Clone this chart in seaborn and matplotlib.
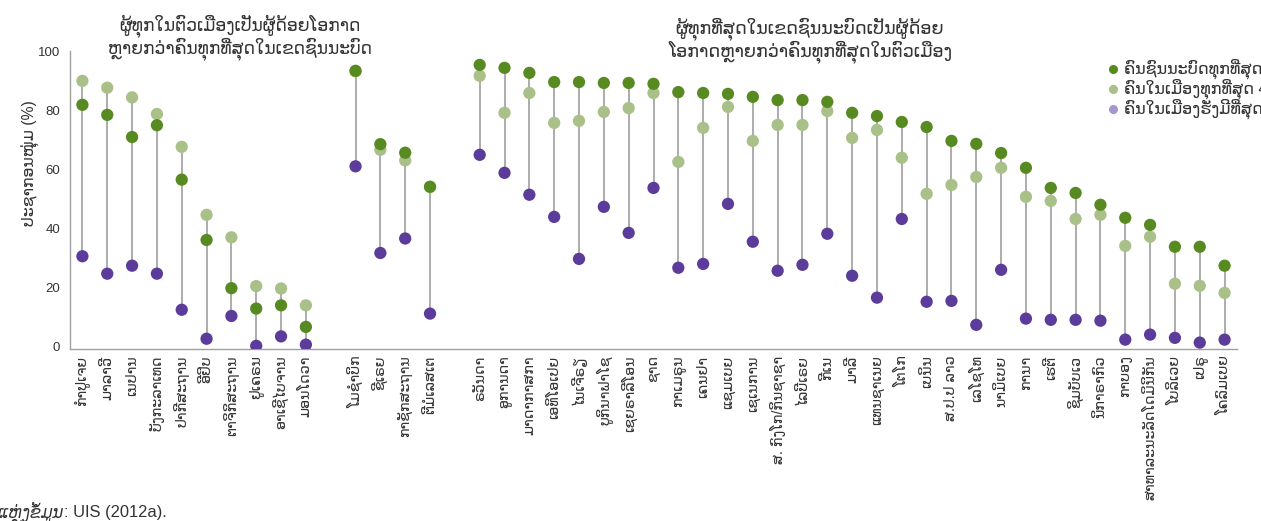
import numpy as np
import pandas as pd
import matplotlib
matplotlib.use("Agg")
import matplotlib.pyplot as plt
import seaborn as sns
from matplotlib.lines import Line2D

# Country labels, by group (gaps between groups are empty slots on the axis)
group1 = ["ກຳປູເຈຍ", "ມາລາວີ", "ເນປານ", "ບັງກະລາເທດ", "ປາກີສະຖານ",
          "ອີຢິບ", "ຕາຈິກິສະຖານ", "ຢູເຄຣນ", "ອາເຊີໄບຈານ", "ມອນໂດວາ"]
group2 = ["ໂມຊຳບິກ", "ຊີເຣຍ", "ກາຊັກສະຖານ", "ຕີມໍເລສເຕ"]
group3 = ["ຣວັນດາ", "ອູການດາ", "ມາດາກາສກາ", "ເອທິໂອເປຍ", "ໄນເຈີຣຽ",
          "ບູກິນາຟາໂຊ", "ເຊຍຣາລີໂອນ", "ຊາດ", "ກາເມຣູນ", "ເຄນຢາ",
          "ແຊມເບຍ", "ເຊເນການ", "ສ. ກົງໂກ/ກິນຊາຊາ", "ໄລບີເຣຍ", "ກີເນ",
          "ມາລີ", "ແທນຊາເນຍ", "ໂຕໂກ", "ເບນິນ", "ສ.ປ.ປ ລາວ",
          "ເລໂຊໂທ", "ນາມິເບຍ", "ການາ", "ເຮຕີ", "ຊິມບັບເວ",
          "ນິກາຣາກົວ", "ກາບອງ", "ສາທາລະນະລັດໂດມິນິກັນ", "ໂບລິເວຍ", "ເປຣູ",
          "ໂຄລົມເບຍ"]

# Values (%) per group: rural poorest, urban poorest, urban richest
rural_poor1 = [81.8, 78.4, 70.9, 74.9, 56.5, 36.1, 19.8, 12.9, 14.0, 6.7]
urban_poor1 = [89.9, 87.6, 84.3, 78.7, 67.6, 44.6, 37.0, 20.5, 19.7, 14.0]
urban_rich1 = [30.6, 24.7, 27.4, 24.7, 12.5, 2.7, 10.4, 0.3, 3.5, 0.7]

rural_poor2 = [93.3, 68.5, 65.6, 54.1]
urban_poor2 = [93.1, 66.6, 63.0, 54.0]
urban_rich2 = [61.0, 31.7, 36.6, 11.2]

rural_poor3 = [95.3, 94.3, 92.6, 89.5, 89.5, 89.2, 89.2, 88.9, 86.1, 85.8,
               85.5, 84.5, 83.4, 83.4, 82.8, 79.1, 78.0, 76.0, 74.3, 69.6,
               68.6, 65.5, 60.5, 53.7, 52.0, 48.0, 43.6, 41.2, 33.8, 33.8,
               27.4]
urban_poor3 = [91.6, 79.1, 85.8, 75.7, 76.4, 79.4, 80.7, 85.8, 62.5, 74.0,
               81.1, 69.6, 75.0, 75.0, 79.7, 70.6, 73.3, 63.9, 51.7, 54.7,
               57.4, 60.5, 50.7, 49.3, 43.2, 44.6, 34.1, 37.2, 21.3, 20.6,
               18.2]
urban_rich3 = [64.9, 58.8, 51.4, 43.9, 29.7, 47.3, 38.5, 53.7, 26.7, 28.0,
               48.3, 35.5, 25.7, 27.7, 38.2, 24.0, 16.6, 43.2, 15.2, 15.5,
               7.4, 26.0, 9.5, 9.1, 9.1, 8.8, 2.4, 4.1, 3.0, 1.4,
               2.4]

title1 = "ຜູ້ທຸກໃນຕົວເມືອງເປັນຜູ້ດ້ອຍໂອກາດ\nຫຼາຍກວ່າຄົນທຸກທີ່ສຸດໃນເຂດຊົນນະບົດ"
title2 = "ຜູ້ທຸກທີ່ສຸດໃນເຂດຊົນນະບົດເປັນຜູ້ດ້ອຍ\nໂອກາດຫຼາຍກວ່າຄົນທຸກທີ່ສຸດໃນຕົວເມືອງ"
legend_labels = ["ຄົນຊົນນະບົດທຸກທີ່ສຸດ 40%", "ຄົນໃນເມືອງທຸກທີ່ສຸດ 40%", "ຄົນໃນເມືອງຮັ່ງມີທີ່ສຸດ 20%"]
ylabel = "ປະຊາກອນໜຸ່ມ (%)"

# build one long table with slot positions (one empty slot between groups)
countries = group1 + [""] + group2 + [""] + group3
rural = rural_poor1 + [np.nan] + rural_poor2 + [np.nan] + rural_poor3
upoor = urban_poor1 + [np.nan] + urban_poor2 + [np.nan] + urban_poor3
urich = urban_rich1 + [np.nan] + urban_rich2 + [np.nan] + urban_rich3
pos = np.arange(len(countries))

wide = pd.DataFrame({"pos": pos, "country": countries,
                     "rural_poor": rural, "urban_poor": upoor, "urban_rich": urich})
long = wide.melt(id_vars=["pos", "country"], var_name="series", value_name="value").dropna()

c_dark = "#578a21"
c_light = "#a9c088"
c_purple = "#5b3c9a"
c_purple_leg = "#a596cc"
c_text = "#333333"

sns.set_style("white")
plt.rcParams["font.family"] = ["Liberation Sans", "DejaVu Sans"]

fig = plt.figure(figsize=(12.61, 5.21), dpi=100)
ax = fig.add_axes([70 / 1261, 1 - 348.5 / 521, 1167 / 1261, 297.5 / 521])

valid = wide.dropna()
cols = ["rural_poor", "urban_poor", "urban_rich"]
ax.vlines(valid["pos"], valid[cols].min(axis=1), valid[cols].max(axis=1),
          color="#a6a6a6", lw=1.3, zorder=1)

# light green first, dark green over it, purple last
palette = {"rural_poor": c_dark, "urban_poor": c_light, "urban_rich": c_purple}
for s in ["urban_poor", "rural_poor", "urban_rich"]:
    sns.scatterplot(data=long[long["series"] == s], x="pos", y="value", color=palette[s],
                    s=78, edgecolor="none", ax=ax, zorder=3, legend=False)

ax.set_xlim(-0.5, len(countries) - 0.5)
ax.set_ylim(-0.6, 100)
ax.set_yticks([0, 20, 40, 60, 80, 100])
ax.set_xticks(pos)
ax.set_xticklabels(countries, rotation=90, fontsize=10.3, color=c_text)
ax.set_xticks(np.arange(-0.5, len(countries)), minor=True)
ax.tick_params(axis="x", which="major", length=0, pad=5)
ax.tick_params(axis="x", which="minor", length=4, color="#999999", width=1)
ax.tick_params(axis="y", length=4, color="#999999", width=1, labelsize=9.5,
               labelcolor=c_text, pad=3)
ax.set_xlabel("")
ax.set_ylabel("")
sns.despine(ax=ax)
for sp in ["left", "bottom"]:
    ax.spines[sp].set_color("#a0a0a0")
    ax.spines[sp].set_linewidth(1)

fig.text(31 / 1261, 1 - 163 / 521, ylabel, rotation=90, ha="center", va="center",
         fontsize=11.3, color=c_text)
fig.text(240 / 1261, 1 - 37 / 521, title1, ha="center", va="center", fontsize=12.3,
         color=c_text, linespacing=0.98)
fig.text(810 / 1261, 1 - 40 / 521, title2, ha="center", va="center", fontsize=12.6,
         color=c_text, linespacing=0.98)

# legend, drawn row by row (it runs past the right edge, as in the reference)
for i, (lab, col) in enumerate(zip(legend_labels, (c_dark, c_light, c_purple_leg))):
    yy = 1 - (69 + 20 * i) / 521
    fig.add_artist(Line2D([1113 / 1261], [yy], transform=fig.transFigure, marker="o",
                          ls="", color=col, markersize=5.5))
    fig.text(1124 / 1261, yy, lab, ha="left", va="center", fontsize=11.5, color=c_text)

fig.text(64 / 1261, 1 - 512 / 521, "ແຫຼ່ງຂໍ້ມູນ", ha="right", va="center", fontsize=11.9,
         style="italic", color=c_text)
fig.text(64 / 1261, 1 - 512 / 521, ": UIS (2012a).", ha="left", va="center", fontsize=11.9,
         color=c_text)

fig.savefig("out.png", dpi=100)
